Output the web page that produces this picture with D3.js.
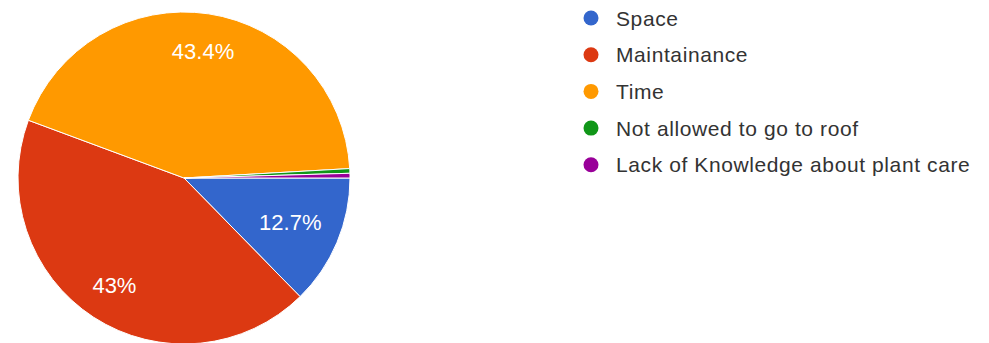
<!DOCTYPE html>
<html>
<head>
<meta charset="utf-8">
<script src="https://cdn.jsdelivr.net/npm/d3@7"></script>
<style>
  html, body { margin: 0; padding: 0; background: #fff; }
  svg { display: block; }
  text { font-family: Arial, "Liberation Sans", Helvetica, sans-serif; }
</style>
</head>
<body>
<svg id="chart" width="989" height="343"></svg>
<script>
// Survey responses: reasons for not keeping a rooftop garden
const categories = ["Space", "Maintainance", "Time", "Not allowed to go to roof", "Lack of Knowledge about plant care"];
const responses = [28, 95, 96, 1, 1];
const colors = ["#3366cc", "#dc3912", "#ff9900", "#109618", "#990099"];

const W = 989, H = 343;
const cx = 184, cy = 178, radius = 166;

const svg = d3.select("#chart");
const total = d3.sum(responses);
const data = categories.map((c, i) => ({ name: c, value: responses[i], color: colors[i] }));

const pie = d3.pie()
  .sort(null)
  .value(d => d.value)
  .startAngle(Math.PI / 2)
  .endAngle(Math.PI / 2 + 2 * Math.PI);

const arc = d3.arc().innerRadius(0).outerRadius(radius);
const arcs = pie(data);

const g = svg.append("g").attr("transform", `translate(${cx},${cy})`);

g.selectAll("path.slice")
  .data(arcs)
  .join("path")
  .attr("class", "slice")
  .attr("d", arc)
  .attr("fill", d => d.data.color)
  .attr("stroke", "#ffffff")
  .attr("stroke-width", 1);

// Percentage labels; each one sits at 0.77r along the slice bisector and is
// pulled inward until its box stays inside 0.89r of the circle.
const fmt = d3.format(".1~f");
const labelled = arcs.filter(d => d.value / total > 0.05);
labelled.forEach(d => {
  const pct = +(100 * d.value / total).toFixed(1);
  const t = g.append("text")
    .attr("fill", "#ffffff")
    .attr("font-size", 22)
    .attr("text-anchor", "middle")
    .attr("dominant-baseline", "central")
    .text(fmt(pct) + "%");
  const box = t.node().getBBox();
  const hw = box.width / 2, hh = 8;
  const mid = (d.startAngle + d.endAngle) / 2;
  const ux = Math.sin(mid), uy = -Math.cos(mid);
  let dist = radius * 0.77;
  const limit = radius * 0.89;
  const far = r => {
    const x = ux * r, y = uy * r;
    return Math.hypot(Math.abs(x) + hw, Math.abs(y) + hh);
  };
  while (dist > 0 && far(dist) > limit) dist -= 0.5;
  t.attr("x", ux * dist).attr("y", uy * dist);
});

// Legend
const legend = svg.append("g").attr("transform", "translate(591,18)");
const rowH = 36.7;
const rows = legend.selectAll("g.row")
  .data(data)
  .join("g")
  .attr("class", "row")
  .attr("transform", (d, i) => `translate(0,${i * rowH})`);

rows.append("circle")
  .attr("r", 7.5)
  .attr("fill", d => d.color);

rows.append("text")
  .attr("x", 25)
  .attr("dominant-baseline", "central")
  .attr("font-size", 21)
  .attr("letter-spacing", 0.6)
  .attr("fill", "#333333")
  .text(d => d.name);
</script>
</body>
</html>
